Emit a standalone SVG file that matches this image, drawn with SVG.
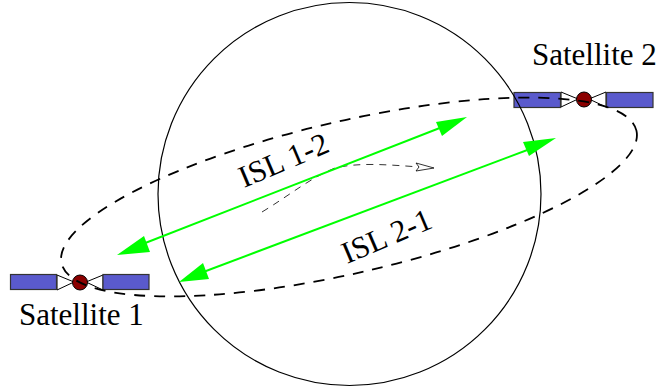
<svg xmlns="http://www.w3.org/2000/svg" width="659" height="389" viewBox="0 0 659 389">
<style>
text{font-family:"Liberation Serif","Times New Roman",serif;font-size:31px;fill:#000}
.panel{fill:#5a5acd;stroke:#333;stroke-width:1.2}
.wing{fill:#fff;stroke:#000;stroke-width:1}
.body{fill:#8b0000;stroke:#000;stroke-width:1}
.link{stroke:#00ff00;stroke-width:2;fill:none}
.head{fill:#00ff00}
</style>
<rect width="659" height="389" fill="#fff"/>
<g id="satellite-1">
<path class="wing" d="M57 275L74 282L57 290Z"/>
<path class="wing" d="M103 275L86 282L103 290Z"/>
<rect class="panel" x="10.500" y="274.500" width="46" height="15"/>
<rect class="panel" x="103" y="274.500" width="46" height="15"/>
<circle class="body" cx="80" cy="282.500" r="7.500"/>
<text x="19" y="325">Satellite 1</text>
</g>
<g id="satellite-2">
<path class="wing" d="M561 92L578 99L561 107Z"/>
<path class="wing" d="M606 92L589 99L606 107Z"/>
<rect class="panel" x="514" y="92.500" width="46.500" height="15"/>
<rect class="panel" x="606.500" y="92.500" width="46.500" height="15"/>
<circle class="body" cx="584" cy="99.500" r="7.500"/>
<text x="532" y="65">Satellite 2</text>
</g>
<g id="earth"><circle cx="349.500" cy="194" r="191.500" fill="none" stroke="#000" stroke-width="1.200"/></g>
<g id="connectors">
<ellipse id="orbit" cx="349" cy="197" rx="295" ry="76" transform="rotate(-13 349 197)" fill="none" stroke="#000" stroke-width="1.800" stroke-dasharray="11 9"/>
<path id="rotation" d="M262 212C290 195 310 178 335 168C360 162 390 165 420 167" fill="none" stroke="#000" stroke-width="0.800" stroke-dasharray="7 6"/>
<path d="M416 163L434 168L416 171L419 167Z" fill="#fff" stroke="#000" stroke-width="0.800"/>
<path class="link" d="M135 247L450 124"/>
<path class="head" d="M467 117L442 136L436 122Z"/>
<path class="head" d="M117 255L150 252L144 236Z"/>
<path class="link" d="M198 274L538 146"/>
<path class="head" d="M556 138L529 156L523 142Z"/>
<path class="head" d="M179 282L209 279L203 263Z"/>
</g>
<g id="labels">
<text transform="translate(244 188) rotate(-23)">ISL 1-2</text>
<text transform="translate(347 264) rotate(-23)">ISL 2-1</text>
</g>
</svg>
